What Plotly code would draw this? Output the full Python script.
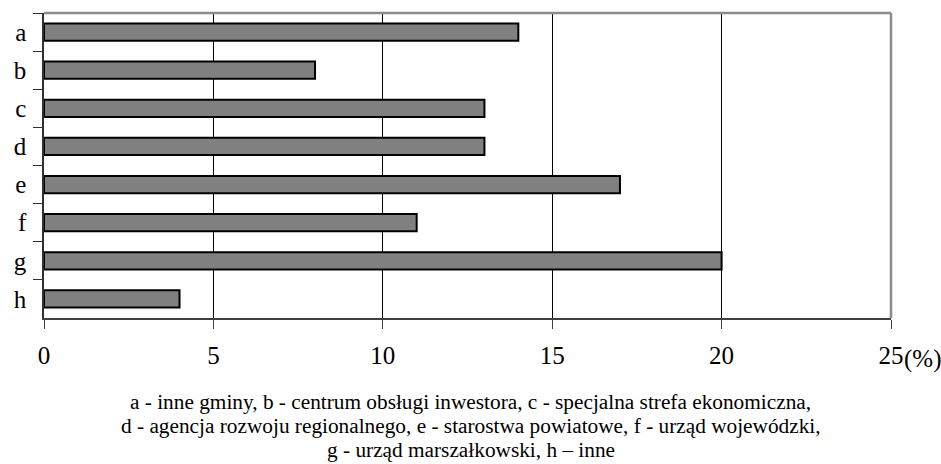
import plotly.graph_objects as go

categories = ["a", "b", "c", "d", "e", "f", "g", "h"]
values = [14, 8, 13, 13, 17, 11, 20, 4]
x_ticks = [0, 5, 10, 15, 20, 25]
x_tick_labels = ["0", "5", "10", "15", "20", "25"]
unit_label = "(%)"
caption_lines = [
    "a - inne gminy, b - centrum obsługi inwestora, c - specjalna strefa ekonomiczna,",
    "d - agencja rozwoju regionalnego, e - starostwa powiatowe, f - urząd wojewódzki,",
    "g - urząd marszałkowski, h – inne",
]

FONT = "Liberation Serif"

fig = go.Figure()
fig.add_trace(go.Bar(
    x=values, y=categories, orientation="h",
    marker=dict(color="#808080", line=dict(color="black", width=2)),
    width=0.45,
))

fig.update_layout(
    width=941, height=464,
    margin=dict(l=44, r=50, t=13, b=146, autoexpand=False),
    paper_bgcolor="white", plot_bgcolor="white",
    showlegend=False,
    font=dict(family=FONT, color="black", size=24),
    xaxis=dict(
        range=[0, 25], tickvals=x_ticks, ticktext=x_tick_labels,
        showgrid=True, gridcolor="black", gridwidth=1,
        zeroline=False, showline=True, linecolor="#404040", linewidth=1.5,
        ticks="outside", ticklen=9, tickcolor="#404040", tickwidth=1,
        tickfont=dict(size=25, family=FONT), ticklabelstandoff=5,
        automargin=False, fixedrange=True,
    ),
    yaxis=dict(
        categoryorder="array", categoryarray=categories, autorange="reversed",
        showgrid=False, zeroline=False, showline=True, linecolor="#303030", linewidth=1.5,
        ticks="outside", ticklen=9, tickcolor="#303030", tickwidth=1,
        tickson="boundaries",
        tickfont=dict(size=25, family=FONT), ticklabelstandoff=11,
        automargin=False, fixedrange=True,
    ),
)

# gray top and right frame
fig.add_shape(type="line", xref="paper", yref="paper", x0=0, x1=1, y0=1, y1=1,
              line=dict(color="#8c8c8c", width=2.5))
fig.add_shape(type="line", xref="paper", yref="paper", x0=1, x1=1, y0=0, y1=1,
              line=dict(color="#8c8c8c", width=2.5))

# unit after last tick label
fig.add_annotation(text=unit_label, x=25, xref="x", y=0, yref="paper",
                   xanchor="left", yanchor="top", xshift=11, yshift=-25,
                   showarrow=False, font=dict(size=25, family=FONT, color="black"))

# caption
for i, line in enumerate(caption_lines):
    fig.add_annotation(text=line, x=0.5, xref="paper", y=1, yref="paper",
                       xanchor="center", yanchor="middle",
                       yshift=-(401.5 - 13) - 24 * i, xshift=3,
                       showarrow=False, font=dict(size=21.3, family=FONT, color="black"))

fig.write_html(
    "out.html",
    config={"displayModeBar": False},
    post_script="document.body.style.margin='0';document.body.style.overflow='hidden';",
)
